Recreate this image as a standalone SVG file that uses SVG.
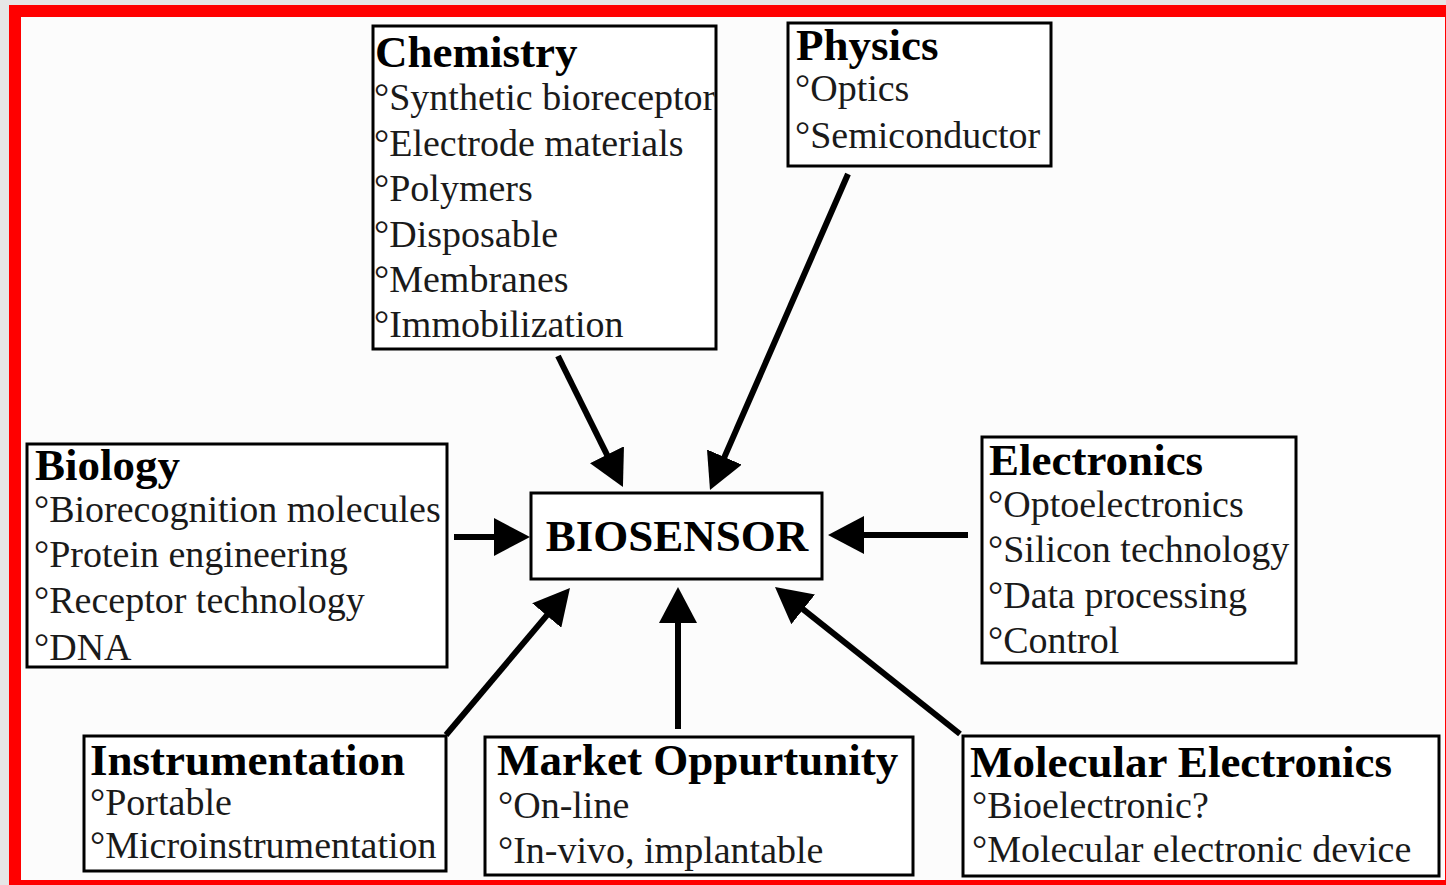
<svg xmlns="http://www.w3.org/2000/svg" width="1446" height="885" viewBox="0 0 1446 885">
<style>
.box{fill:#ffffff;stroke:#000;stroke-width:3}
.t{font-family:"Liberation Serif","Times New Roman",serif;font-weight:bold;font-size:45px;fill:#000}
.b{font-family:"Liberation Serif","Times New Roman",serif;font-size:38px;fill:#1a1a1a}
.c{stroke:#000;stroke-width:6;fill:none;marker-end:url(#ah)}
</style>
<defs>
<marker id="ah" viewBox="0 0 36 38" refX="8" refY="19" markerWidth="36" markerHeight="38" markerUnits="userSpaceOnUse" orient="auto">
<path d="M0,0 L36,19 L0,38 z" fill="#000"/>
</marker>
<clipPath id="chemclip"><rect x="374.5" y="27.5" width="340" height="320"/></clipPath>
</defs>
<rect x="0" y="0" width="1446" height="885" fill="#e6e6e6"/>
<rect x="15" y="11" width="1436" height="875" fill="#fcfcfc" stroke="#ff0000" stroke-width="12"/>

<g id="connectors">
<line class="c" x1="558" y1="356" x2="610.5" y2="461.9"/>
<line class="c" x1="848" y1="174" x2="721.2" y2="464.4"/>
<line class="c" x1="454" y1="537" x2="502" y2="537"/>
<line class="c" x1="968" y1="535" x2="856" y2="535"/>
<line class="c" x1="446" y1="735" x2="551.9" y2="609.4"/>
<line class="c" x1="678" y1="729" x2="678" y2="615"/>
<line class="c" x1="960" y1="734" x2="796.9" y2="604.4"/>
</g>

<g id="chemistry">
<rect class="box" x="373" y="26" width="343" height="323"/>
<g clip-path="url(#chemclip)">
<text class="t" x="375" y="67">Chemistry</text>
<text class="b" x="374" y="110">°Synthetic bioreceptor</text>
<text class="b" x="374" y="156">°Electrode materials</text>
<text class="b" x="374" y="201">°Polymers</text>
<text class="b" x="374" y="247">°Disposable</text>
<text class="b" x="374" y="292">°Membranes</text>
<text class="b" x="374" y="337">°Immobilization</text>
</g>
</g>

<g id="physics">
<rect class="box" x="788" y="23" width="263" height="143"/>
<text class="t" x="796" y="60">Physics</text>
<text class="b" x="795" y="101">°Optics</text>
<text class="b" x="795" y="148">°Semiconductor</text>
</g>

<g id="biology">
<rect class="box" x="27" y="444" width="420" height="223"/>
<text class="t" x="35" y="480">Biology</text>
<text class="b" x="34" y="522">°Biorecognition molecules</text>
<text class="b" x="34" y="567">°Protein engineering</text>
<text class="b" x="34" y="613">°Receptor technology</text>
<text class="b" x="34" y="660">°DNA</text>
</g>

<g id="biosensor">
<rect class="box" x="531" y="493" width="291" height="86"/>
<text class="t" x="677" y="551" text-anchor="middle">BIOSENSOR</text>
</g>

<g id="electronics">
<rect class="box" x="982" y="437" width="314" height="226"/>
<text class="t" x="989" y="475">Electronics</text>
<text class="b" x="988" y="517">°Optoelectronics</text>
<text class="b" x="988" y="562">°Silicon technology</text>
<text class="b" x="988" y="608">°Data processing</text>
<text class="b" x="988" y="653">°Control</text>
</g>

<g id="instrumentation">
<rect class="box" x="84" y="736" width="362" height="135"/>
<text class="t" x="90" y="775">Instrumentation</text>
<text class="b" x="90" y="815">°Portable</text>
<text class="b" x="90" y="858">°Microinstrumentation</text>
</g>

<g id="market">
<rect class="box" x="485" y="737" width="428" height="138"/>
<text class="t" x="497" y="775">Market Oppurtunity</text>
<text class="b" x="498" y="818">°On-line</text>
<text class="b" x="498" y="863">°In-vivo, implantable</text>
</g>

<g id="molecular">
<rect class="box" x="963" y="736" width="476" height="140"/>
<text class="t" x="970" y="777">Molecular Electronics</text>
<text class="b" x="972" y="818">°Bioelectronic?</text>
<text class="b" x="972" y="862">°Molecular electronic device</text>
</g>
</svg>
